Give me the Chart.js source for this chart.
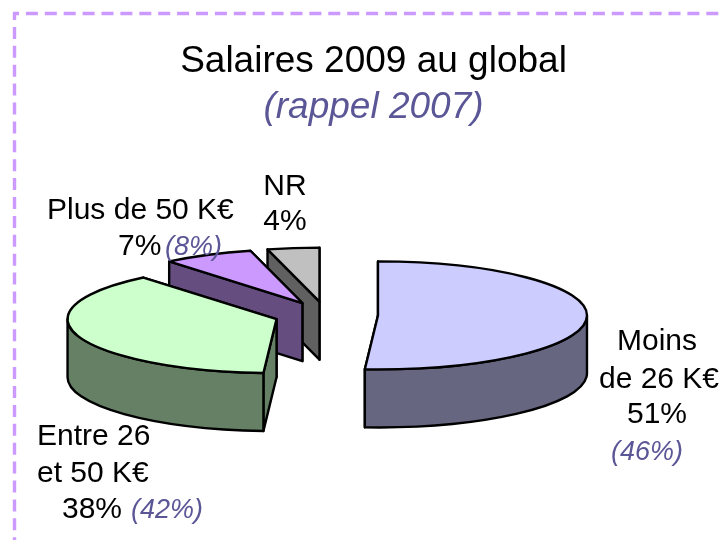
<!DOCTYPE html>
<html lang="fr">
<head>
<meta charset="utf-8">
<style>html,body{margin:0;padding:0;background:#fff}#wrap{position:relative;width:721px;height:540px}</style>
<script src="https://cdn.jsdelivr.net/npm/chart.js@4"></script>
</head>
<body>
<div id="wrap"><canvas id="c" width="721" height="540"></canvas></div>
<script>
const categories = ["Moins de 26 K€", "Entre 26 et 50 K€", "Plus de 50 K€", "NR"];
const shares2009 = [51, 38, 7, 4];
const shares2007 = [46, 42, 8, null];
const topColors = ["#CCCCFF", "#CCFFCC", "#CC99FF", "#C0C0C0"];
const sideColors = ["#666680", "#668066", "#664D80", "#606060"];
const drawOrder = [3, 2, 0, 1];

const FONT = '"Liberation Sans", Helvetica, Arial, sans-serif';
const PURPLE = "#5B5696";
const VIEW = {cx: 326, cy: 315, ry: 54, depth: 58, explode: 52};

const labelLayout = [
  {lines: [["Moins", 657, 350, "center"], ["de 26 K€", 659, 388, "center"], ["{v}", 657, 423, "center"]], prev: [647, 460, "center"]},
  {lines: [["Entre 26", 37, 445, "left"], ["et 50 K€", 37, 482, "left"], ["{v}", 62, 518, "left"]], prev: [131, 518, "left"]},
  {lines: [["Plus de 50 K€", 47, 219, "left"], ["{v}", 118, 255, "left"]], prev: [165, 255, "left"]},
  {lines: [["NR", 285, 195, "center"], ["{v}", 285, 230, "center"]], prev: null}
];

const pie3d = {
  id: "pie3d",
  beforeDraw(chart) {
    const ctx = chart.ctx;
    ctx.save();
    ctx.strokeStyle = "#CC99FF";
    ctx.lineWidth = 3.4;
    ctx.setLineDash([12, 6.9]);
    ctx.lineDashOffset = 6;
    ctx.beginPath();
    ctx.moveTo(13, 13.5);
    ctx.lineTo(721, 13.5);
    ctx.stroke();
    ctx.lineDashOffset = 5;
    ctx.beginPath();
    ctx.moveTo(14.5, 13);
    ctx.lineTo(14.5, 540);
    ctx.stroke();
    ctx.restore();
  },
  beforeDatasetDraw(chart) {
    const ctx = chart.ctx;
    const arcs = chart.getDatasetMeta(0).data;
    ctx.save();
    ctx.lineJoin = "round";
    ctx.lineWidth = 2.4;
    ctx.strokeStyle = "#000";
    drawOrder.forEach(i => {
      const arc = arcs[i];
      const a0 = arc.startAngle, a1 = arc.endAngle, rx = arc.outerRadius;
      const k = VIEW.ry / rx;
      const mid = (a0 + a1) / 2;
      const x = VIEW.cx + Math.cos(mid) * VIEW.explode;
      const y = VIEW.cy + Math.sin(mid) * VIEW.explode * k;
      const D = VIEW.depth;
      const px = a => x + rx * Math.cos(a), py = a => y + VIEW.ry * Math.sin(a);
      const face = a => {
        ctx.beginPath();
        ctx.moveTo(x, y);
        ctx.lineTo(px(a), py(a));
        ctx.lineTo(px(a), py(a) + D);
        ctx.lineTo(x, y + D);
        ctx.closePath();
        ctx.fillStyle = sideColors[i];
        ctx.fill();
        ctx.stroke();
      };
      // radial cut faces, rear one first
      [a0, a1].sort((p, q) => py(p) - py(q)).forEach(face);
      // outer wall: the part of the rim facing the viewer
      const w0 = Math.max(a0, 0), w1 = Math.min(a1, Math.PI);
      if (w1 > w0) {
        ctx.beginPath();
        ctx.ellipse(x, y, rx, VIEW.ry, 0, w0, w1);
        ctx.lineTo(px(w1), py(w1) + D);
        ctx.ellipse(x, y + D, rx, VIEW.ry, 0, w1, w0, true);
        ctx.closePath();
        ctx.fillStyle = sideColors[i];
        ctx.fill();
        ctx.stroke();
      }
      // top face
      ctx.beginPath();
      ctx.moveTo(x, y);
      ctx.ellipse(x, y, rx, VIEW.ry, 0, a0, a1);
      ctx.closePath();
      ctx.fillStyle = arc.options.backgroundColor;
      ctx.fill();
      ctx.stroke();
    });
    ctx.restore();
    return false;
  },
  afterDraw(chart) {
    const ctx = chart.ctx;
    ctx.save();
    ctx.textBaseline = "alphabetic";
    labelLayout.forEach((lab, i) => {
      ctx.fillStyle = "#000";
      ctx.font = "30px " + FONT;
      lab.lines.forEach(([t, x, y, al]) => {
        ctx.textAlign = al;
        ctx.fillText(t.replace("{v}", shares2009[i] + "%"), x, y);
      });
      if (lab.prev && shares2007[i] != null) {
        ctx.fillStyle = PURPLE;
        ctx.font = "italic 27px " + FONT;
        ctx.textAlign = lab.prev[2];
        ctx.fillText("(" + shares2007[i] + "%)", lab.prev[0], lab.prev[1]);
      }
    });
    ctx.restore();
  }
};

new Chart(document.getElementById("c"), {
  type: "pie",
  data: {
    labels: categories,
    datasets: [{data: shares2009, backgroundColor: topColors, borderColor: "#000", borderWidth: 2, radius: 209}]
  },
  options: {
    responsive: false,
    animation: false,
    layout: {padding: {left: 26, top: 28}},
    events: [],
    plugins: {
      legend: {display: false},
      tooltip: {enabled: false},
      title: {display: true, text: "Salaires 2009 au global", color: "#000",
              font: {family: FONT, size: 37, weight: "normal"}, padding: {top: 12, bottom: 1}},
      subtitle: {display: true, text: "(rappel 2007)", color: PURPLE,
              font: {family: FONT, size: 37, style: "italic", weight: "normal"}, padding: {top: 0, bottom: 0}}
    }
  },
  plugins: [pie3d]
});
</script>
</body>
</html>
